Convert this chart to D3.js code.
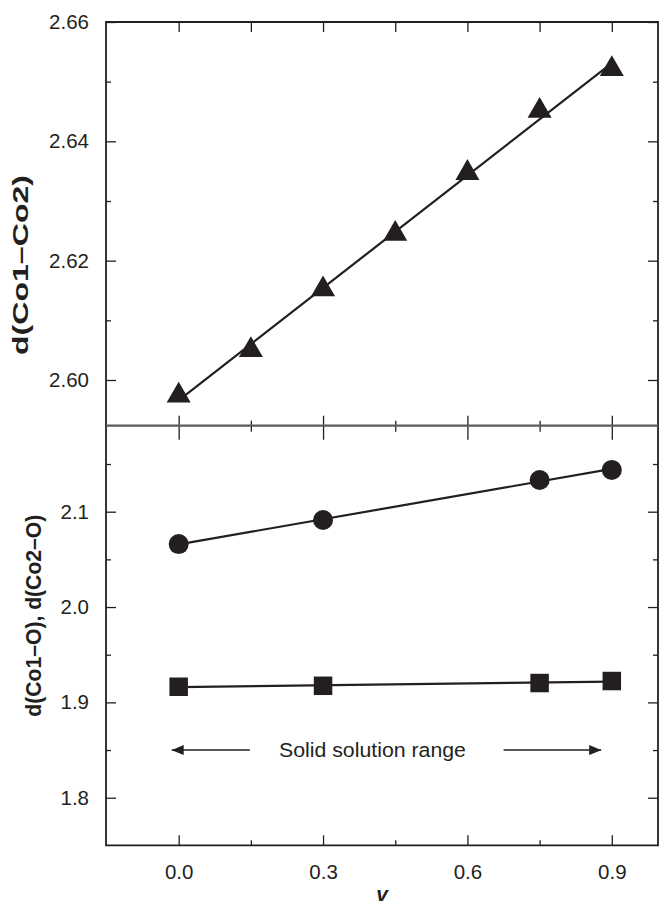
<!DOCTYPE html>
<html>
<head>
<meta charset="utf-8">
<script src="https://cdn.jsdelivr.net/npm/d3@7"></script>
<style>
  html, body { margin: 0; padding: 0; background: #fff; }
  svg { display: block; }
  text { font-family: "Liberation Sans", Arial, Helvetica, sans-serif; fill: #231f20; }
</style>
</head>
<body>
<div id="chart"></div>
<script>
// data
const vTop = [0, 0.15, 0.3, 0.45, 0.6, 0.75, 0.9];
const dCo1Co2 = [2.5974, 2.6050, 2.6152, 2.6245, 2.6347, 2.6451, 2.6521];
const vBottom = [0, 0.3, 0.75, 0.9];
const dCircle = [2.066, 2.0913, 2.1333, 2.1438];
const dSquare = [1.9164, 1.9174, 1.9203, 1.9224];
const xTicks = [0, 0.3, 0.6, 0.9];
const xMinor = [0.15, 0.45, 0.75];
const yTopTicks = [2.60, 2.62, 2.64, 2.66];
const yTopMinor = [2.61, 2.63, 2.65];
const yBotTicks = [1.8, 1.9, 2.0, 2.1];
const yBotMinor = [1.85, 1.95, 2.05, 2.15];

const W = 659, H = 905;
const mLeft = 106, mRight = 658, mTop = 22, mMid = 425.7, mBottom = 845.3;
const ink = '#231f20';

const svg = d3.select('#chart').append('svg').attr('width', W).attr('height', H);

const x = d3.scaleLinear().domain([-0.151, 0.996]).range([mLeft, mRight]);
const yTop = d3.scaleLinear().domain([2.59234, 2.66]).range([mMid, mTop]);
const yBot = d3.scaleLinear().domain([1.7501, 2.1902]).range([mBottom, mMid]);

function styleAxis(g, fs) {
    g.attr('font-family', null).attr('font-size', null);
    g.selectAll('.tick line').attr('stroke', ink).attr('stroke-width', 1.3);
    g.selectAll('.domain').remove();
    g.selectAll('text').style('font-size', fs + 'px').attr('fill', ink);
}

function addAxis(axis, tx, ty) {
    const g = svg.append('g').attr('transform', `translate(${tx},${ty})`).call(axis);
    styleAxis(g, 20.5);
    return g;
}

// y axes, top panel
addAxis(d3.axisLeft(yTop).tickValues(yTopTicks).tickSize(-10).tickPadding(17).tickFormat(d3.format('.2f')), mLeft, 0);
addAxis(d3.axisLeft(yTop).tickValues(yTopMinor).tickSize(-5).tickFormat(''), mLeft, 0);
addAxis(d3.axisRight(yTop).tickValues(yTopTicks).tickSize(-10).tickFormat(''), mRight, 0);
addAxis(d3.axisRight(yTop).tickValues(yTopMinor).tickSize(-5).tickFormat(''), mRight, 0);

// y axes, bottom panel
addAxis(d3.axisLeft(yBot).tickValues(yBotTicks).tickSize(-10).tickPadding(17).tickFormat(d3.format('.1f')), mLeft, 0);
addAxis(d3.axisLeft(yBot).tickValues(yBotMinor).tickSize(-5).tickFormat(''), mLeft, 0);
addAxis(d3.axisRight(yBot).tickValues(yBotTicks).tickSize(-10).tickFormat(''), mRight, 0);
addAxis(d3.axisRight(yBot).tickValues(yBotMinor).tickSize(-5).tickFormat(''), mRight, 0);

// x axes
addAxis(d3.axisTop(x).tickValues(xTicks.concat(xMinor)).tickSize(-10).tickFormat(''), 0, mTop);
addAxis(d3.axisBottom(x).tickValues(xTicks).tickSize(-10).tickFormat(''), 0, mMid);
addAxis(d3.axisBottom(x).tickValues(xMinor).tickSize(-5).tickFormat(''), 0, mMid);
addAxis(d3.axisTop(x).tickValues(xTicks).tickSize(-14).tickFormat(''), 0, mMid);
addAxis(d3.axisTop(x).tickValues(xMinor).tickSize(-6).tickFormat(''), 0, mMid);
addAxis(d3.axisBottom(x).tickValues(xTicks).tickSize(-10).tickPadding(19).tickFormat(d3.format('.1f')), 0, mBottom);
addAxis(d3.axisBottom(x).tickValues(xMinor).tickSize(-5).tickFormat(''), 0, mBottom);

// frame
svg.append('path')
    .attr('d', `M${mLeft},${mTop}H${mRight}V${mBottom}H${mLeft}Z`)
    .attr('fill', 'none').attr('stroke', ink).attr('stroke-width', 1.8);
svg.append('line')
    .attr('x1', mLeft).attr('x2', mRight).attr('y1', mMid).attr('y2', mMid)
    .attr('stroke', '#5a5a5a').attr('stroke-width', 2.2);

// least squares line through a series
function fit(xs, ys) {
    const mx = d3.mean(xs), my = d3.mean(ys);
    let sxy = 0, sxx = 0;
    xs.forEach((v, i) => { sxy += (v - mx) * (ys[i] - my); sxx += (v - mx) * (v - mx); });
    const b = sxy / sxx, a = my - b * mx;
    const ext = d3.extent(xs);
    return ext.map(v => [v, a + b * v]);
}

function drawSeries(xs, ys, yScale, symbol, size) {
    svg.append('path')
        .datum(fit(xs, ys))
        .attr('d', d3.line().x(d => x(d[0])).y(d => yScale(d[1])))
        .attr('fill', 'none').attr('stroke', ink).attr('stroke-width', 2.2);
    svg.append('g').selectAll('path')
        .data(xs.map((v, i) => [v, ys[i]]))
        .join('path')
        .attr('transform', d => `translate(${x(d[0])},${yScale(d[1])})`)
        .attr('d', d3.symbol().type(symbol).size(size))
        .attr('fill', ink);
}

drawSeries(vTop, dCo1Co2, yTop, d3.symbolTriangle, 250);
drawSeries(vBottom, dCircle, yBot, d3.symbolCircle, Math.PI * 100);
drawSeries(vBottom, dSquare, yBot, d3.symbolSquare, 18.5 * 18.5);

// solid solution range annotation
const defs = svg.append('defs');
defs.append('marker').attr('id', 'head')
    .attr('viewBox', '0 0 12 10').attr('refX', 12).attr('refY', 5)
    .attr('markerWidth', 12).attr('markerHeight', 10).attr('markerUnits', 'userSpaceOnUse')
    .attr('orient', 'auto')
    .append('path').attr('d', 'M0,0L12,5L0,10Z').attr('fill', ink);

const arrowY = yBot(1.85);
[[0.148, -0.0145], [0.6752, 0.878]].forEach(([a, b]) => {
    svg.append('line')
        .attr('x1', x(a)).attr('x2', x(b)).attr('y1', arrowY).attr('y2', arrowY)
        .attr('stroke', ink).attr('stroke-width', 1.5)
        .attr('marker-end', 'url(#head)');
});
svg.append('text')
    .attr('x', x(0.4027)).attr('y', arrowY + 7.3)
    .attr('text-anchor', 'middle').style('font-size', '20.5px')
    .attr('textLength', 187).attr('lengthAdjust', 'spacingAndGlyphs')
    .text('Solid solution range');

// axis titles
svg.append('text')
    .attr('transform', `translate(21.7,265) rotate(-90)`)
    .attr('text-anchor', 'middle').attr('dy', '0.27em')
    .style('font-size', '22px').style('font-weight', 'bold')
    .attr('textLength', 180).attr('lengthAdjust', 'spacingAndGlyphs')
    .text('d(Co1–Co2)');
svg.append('text')
    .attr('transform', `translate(35.5,615.7) rotate(-90)`)
    .attr('text-anchor', 'middle').attr('dy', '0.27em')
    .style('font-size', '22px').style('font-weight', 'bold')
    .attr('textLength', 202).attr('lengthAdjust', 'spacingAndGlyphs')
    .text('d(Co1–O), d(Co2–O)');
svg.append('text')
    .attr('x', (mLeft + mRight) / 2).attr('y', 901)
    .attr('text-anchor', 'middle')
    .style('font-size', '21px').style('font-weight', 'bold').style('font-style', 'italic')
    .text('v');
</script>
</body>
</html>
